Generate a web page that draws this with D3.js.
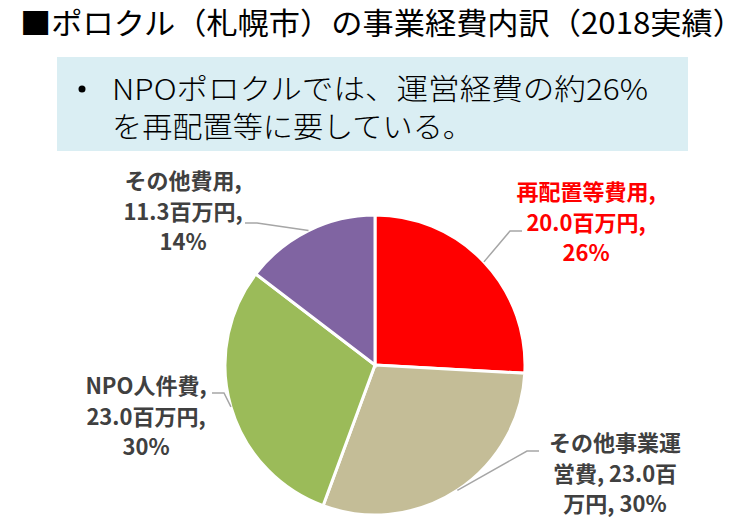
<!DOCTYPE html>
<html>
<head>
<meta charset="utf-8">
<script src="https://cdn.jsdelivr.net/npm/d3@7"></script>
<style>
  body { margin: 0; background: #fff; }
  text { font-family: "Noto Sans CJK JP", "Noto Sans", sans-serif; }
</style>
</head>
<body>
<script>
// data
var categories = ["再配置等費用", "その他事業運営費", "NPO人件費", "その他費用"]
var values = [20.0, 23.0, 23.0, 11.3]
var percents = ["26%", "30%", "30%", "14%"]
var colors = ["#FF0000", "#C4BD97", "#9BBB59", "#8064A2"]
var labelColors = ["#FF0000", "#404040", "#404040", "#404040"]

var titleText = "■ポロクル（札幌市）の事業経費内訳（2018実績）"
var noteLines = ["NPOポロクルでは、運営経費の約26%", "を再配置等に要している。"]

var width = 748, height = 526
var cx = 375, cy = 365, radius = 150

// where each label sits (center x, first baseline) and where its leader line ends
var labelPos = [[586, 200], [615, 451], [146, 394], [183, 189]]
var leaderEnd = [[522, 231], [539, 451], [212, 393], [245, 223]]

var svg = d3.select("body").append("svg")
	.attr("width", width)
	.attr("height", height)

svg.append("text")
	.attr("x", 20)
	.attr("y", 34)
	.attr("textLength", 724)
	.attr("lengthAdjust", "spacingAndGlyphs")
	.style("font-size", "30px")
	.style("fill", "#000")
	.text(titleText)

svg.append("rect")
	.attr("x", 57)
	.attr("y", 57)
	.attr("width", 631)
	.attr("height", 94)
	.style("fill", "#DAEEF3")

svg.append("circle")
	.attr("cx", 82)
	.attr("cy", 89)
	.attr("r", 3.5)
	.style("fill", "#000")

svg.selectAll(".note")
	.data(noteLines)
	.enter().append("text")
	.attr("class", "note")
	.attr("x", 112)
	.attr("y", function(d, i) { return 100 + i * 38 })
	.attr("textLength", function(d, i) { return i == 0 ? 536 : 361 })
	.attr("lengthAdjust", "spacingAndGlyphs")
	.style("font-size", "29px")
	.style("font-weight", 300)
	.style("fill", "#000")
	.text(function(d) { return d })

var pie = d3.pie().sort(null).value(function(d) { return d })
var arcs = pie(values)
var arc = d3.arc().innerRadius(0).outerRadius(radius)

var g = svg.append("g").attr("transform", "translate(" + cx + "," + cy + ")")

g.selectAll("path")
	.data(arcs)
	.enter().append("path")
	.attr("d", arc)
	.style("fill", function(d, i) { return colors[i] })
	.style("stroke", "#fff")
	.style("stroke-width", 3)

// leader lines: edge of slice -> elbow -> label
arcs.forEach(function(d, i) {
	var mid = (d.startAngle + d.endAngle) / 2
	var ex = cx + radius * Math.sin(mid)
	var ey = cy - radius * Math.cos(mid)
	var end = leaderEnd[i]
	var dir = end[0] > cx ? -1 : 1
	svg.append("polyline")
		.attr("points", [[ex, ey], [end[0] + dir * 12, end[1]], end].map(function(p) { return p.join(",") }).join(" "))
		.style("fill", "none")
		.style("stroke", "#A6A6A6")
		.style("stroke-width", 1.5)
})

// wrap label text like Excel does: CJK can break anywhere, latin words stay whole
function wrapLabel(str, maxW, measure) {
	var tokens = str.match(/[A-Za-z0-9.%,]+|\s|./g)
	var lines = [], cur = ""
	tokens.forEach(function(t) {
		var test = cur + t
		if (cur.trim() != "" && t.trim() != "" && measure(test.trim()) > maxW) {
			lines.push(cur.trim())
			cur = t
		} else cur = test
	})
	if (cur.trim() != "") lines.push(cur.trim())
	return lines
}

var probe = svg.append("text").style("font-size", "22px").style("font-weight", 700)
function measure(s) { probe.text(s); return probe.node().getComputedTextLength() }

categories.forEach(function(c, i) {
	var full = c + ", " + values[i].toFixed(1) + "百万円, " + percents[i]
	var lines = wrapLabel(full, 141, measure)
	var t = svg.append("text")
		.attr("text-anchor", "middle")
		.style("font-size", "22px")
		.style("font-weight", 700)
		.style("fill", labelColors[i])
	lines.forEach(function(l, k) {
		t.append("tspan")
			.attr("x", labelPos[i][0])
			.attr("y", labelPos[i][1] + k * 30.5)
			.text(l)
	})
})
probe.remove()
</script>
</body>
</html>
